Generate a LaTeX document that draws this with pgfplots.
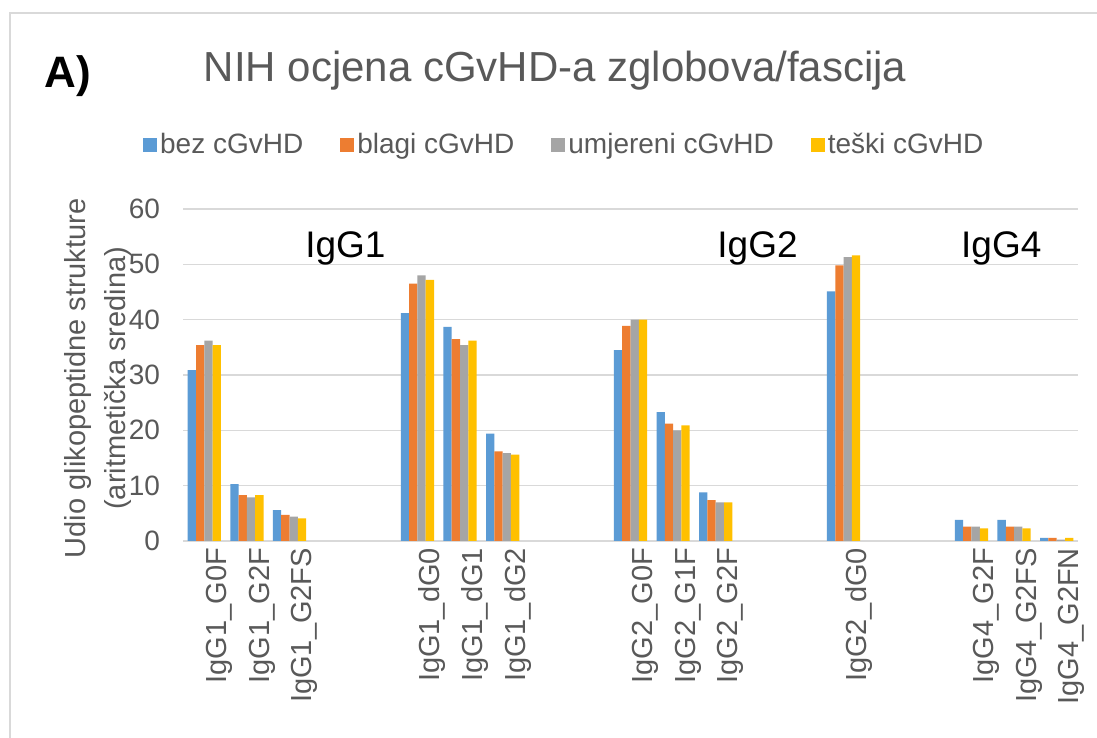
\documentclass[border=0pt]{standalone}
\usepackage{fontspec}
\setmainfont{Liberation Sans}
\usepackage{pgfplots}
\usepackage{pgfplotstable}
\pgfplotsset{compat=1.18}
\definecolor{cblue}{HTML}{5B9BD5}
\definecolor{corange}{HTML}{ED7D31}
\definecolor{cgray}{HTML}{A5A5A5}
\definecolor{cyellow}{HTML}{FFC000}
\definecolor{txt}{HTML}{595959}
\definecolor{gridc}{HTML}{D9D9D9}
\pgfplotsset{sqlegend/.style={legend image code/.code={\fill[##1] (0pt,-3.5pt) rectangle (7pt,3.5pt);}}}

\pgfplotstableread{
x y
0 30.9
1 10.3
2 5.6
5 41.2
6 38.7
7 19.4
10 34.5
11 23.3
12 8.8
15 45.1
18 3.8
19 3.8
20 0.55
}\bez
\pgfplotstableread{
x y
0 35.4
1 8.3
2 4.7
5 46.5
6 36.5
7 16.2
10 38.9
11 21.2
12 7.4
15 49.8
18 2.6
19 2.6
20 0.55
}\blagi
\pgfplotstableread{
x y
0 36.2
1 7.9
2 4.4
5 48.0
6 35.4
7 15.9
10 40.0
11 20.0
12 7.0
15 51.3
18 2.6
19 2.6
20 0.25
}\umjereni
\pgfplotstableread{
x y
0 35.4
1 8.3
2 4.1
5 47.2
6 36.2
7 15.6
10 40.0
11 20.9
12 7.0
15 51.6
18 2.3
19 2.3
20 0.55
}\teski

\begin{document}
\begin{tikzpicture}
\useasboundingbox (0,0) rectangle (548.5pt,369pt);
\fill[white] (0,0) rectangle (548.5pt,369pt);
\draw[gridc, line width=0.75pt] (5pt,-5pt) -- (5pt,362.5pt) -- (560pt,362.5pt);
\node[font=\bfseries\fontsize{22}{26}\selectfont, anchor=base] at (34pt,325pt) {A)};
\begin{axis}[
  at={(91.5pt,98.5pt)}, anchor=south west,
  width=447.5pt, height=166pt, scale only axis,
  xmin=-0.5, xmax=20.5, ymin=0, ymax=60,
  enlargelimits=false,
  ybar=0pt, bar width=0.195,
  ytick={0,10,...,60},
  xtick={0,1,2,5,6,7,10,11,12,15,18,19,20},
  xticklabels={IgG1\_G0F,IgG1\_G2F,IgG1\_G2FS,IgG1\_dG0,IgG1\_dG1,IgG1\_dG2,IgG2\_G0F,IgG2\_G1F,IgG2\_G2F,IgG2\_dG0,IgG4\_G2F,IgG4\_G2FS,IgG4\_G2FN},
  major tick length=0pt,
  axis line style={draw=none},
  ymajorgrids, major grid style={gridc, line width=0.75pt},
  /pgf/number format/assume math mode=true,
  yticklabel style={font=\fontsize{14}{16}\selectfont, text=txt, xshift=-8pt},
  xticklabel style={rotate=90, anchor=east, font=\fontsize{14.5}{17}\selectfont, text=txt, yshift=-7.5pt},
  title={NIH ocjena cGvHD-a zglobova/fascija},
  title style={at={(axis description cs:0.4157,1.3494)}, anchor=base, font=\fontsize{21}{25}\selectfont, text=txt},
  ylabel={Udio glikopeptidne strukture\\(aritmetička sredina)},
  every axis y label/.style={at={(axis description cs:-0.0945,0.49)}, rotate=90, anchor=center, align=center, font=\fontsize{14.5}{20}\selectfont, text=txt},
  legend columns=4,
  legend style={at={(axis description cs:-0.045,1.193)}, anchor=west, draw=none, fill=none, inner sep=0pt,
    font=\fontsize{14}{17}\selectfont, text=txt, nodes={inner xsep=1.5pt},
    /tikz/every even column/.append style={column sep=17pt}},
]
\addplot[fill=cblue, draw=none, sqlegend] table[x=x,y=y] {\bez};
\addplot[fill=corange, draw=none, sqlegend] table[x=x,y=y] {\blagi};
\addplot[fill=cgray, draw=none, sqlegend] table[x=x,y=y] {\umjereni};
\addplot[fill=cyellow, draw=none, sqlegend] table[x=x,y=y] {\teski};
\legend{bez cGvHD, blagi cGvHD, umjereni cGvHD, teški cGvHD}
\node[anchor=base, font=\fontsize{18.5}{22}\selectfont] at (axis cs:3.31,51.2) {IgG1};
\node[anchor=base, font=\fontsize{18.5}{22}\selectfont] at (axis cs:12.98,51.2) {IgG2};
\node[anchor=base, font=\fontsize{18.5}{22}\selectfont] at (axis cs:18.7,51.2) {IgG4};
\end{axis}
\end{tikzpicture}
\end{document}
